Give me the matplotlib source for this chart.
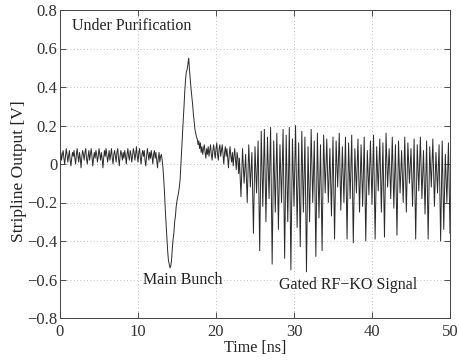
import numpy as np
import matplotlib
matplotlib.use("Agg")
import matplotlib.pyplot as plt

# ---- data ----
# baseline segment: 0.0 .. 12.9 ns, 0.1 ns sampling
base_t0, base_dt = 0.0, 0.1
base_v = [
    0.03, 0.06, 0.02, 0.05, 0.07, 0.03, 0.00, 0.04, 0.08, 0.05,
    0.01, 0.04, 0.07, 0.02, -0.01, 0.03, 0.06, 0.04, 0.07, 0.03,
    0.00, 0.05, 0.08, 0.04, 0.01, 0.06, 0.03, -0.02, 0.04, 0.07,
    0.05, 0.02, 0.06, 0.08, 0.03, 0.00, 0.04, 0.07, 0.02, 0.05,
    0.08, 0.04, -0.01, 0.03, 0.06, 0.03, 0.07, 0.05, 0.01, 0.04,
    0.08, 0.05, 0.02, 0.06, 0.03, -0.02, 0.03, 0.07, 0.04, 0.08,
    0.05, 0.01, 0.04, 0.07, 0.02, 0.05, 0.08, 0.03, 0.00, 0.05,
    0.07, 0.04, 0.01, 0.06, 0.08, 0.03, -0.01, 0.04, 0.07, 0.05,
    0.02, 0.06, 0.03, 0.07, 0.04, 0.00, 0.05, 0.08, 0.04, 0.02,
    0.07, 0.05, 0.01, 0.04, 0.08, 0.06, 0.02, 0.05, 0.09, 0.04,
    0.01, 0.06, 0.08, 0.03, 0.00, 0.05, 0.07, 0.04, 0.07, 0.02,
    -0.01, 0.04, 0.08, 0.05, 0.02, 0.06, 0.03, 0.07, 0.04, 0.00,
    0.05, 0.07, 0.03, 0.06, 0.02, -0.02, 0.03, 0.06, 0.01, 0.04,
]

# main bunch segment: 13.0 .. 22.9 ns, 0.1 ns sampling
bunch_t0, bunch_dt = 13.0, 0.1
bunch_v = [
    0.05, 0.02, -0.02, -0.08, -0.15, -0.24, -0.31, -0.38, -0.45, -0.50,
    -0.52, -0.54, -0.53, -0.50, -0.44, -0.39, -0.36, -0.30, -0.27, -0.22,
    -0.19, -0.17, -0.15, -0.12, -0.08, 0.00, 0.08, 0.16, 0.23, 0.30,
    0.38, 0.44, 0.48, 0.49, 0.52, 0.55, 0.49, 0.44, 0.39, 0.35,
    0.31, 0.26, 0.22, 0.18, 0.16, 0.14, 0.13, 0.10, 0.12, 0.08,
    0.11, 0.06, 0.09, 0.05, 0.08, 0.10, 0.06, 0.03, 0.08, 0.05,
    0.09, 0.04, 0.07, 0.10, 0.05, 0.02, 0.07, 0.10, 0.06, 0.03,
    0.08, 0.11, 0.05, 0.02, 0.08, 0.10, 0.04, 0.07, 0.10, 0.05,
    0.00, 0.06, 0.09, 0.04, 0.08, 0.03, -0.02, 0.05, 0.09, 0.04,
    0.01, 0.06, -0.01, 0.04, 0.08, 0.02, -0.03, 0.06, 0.03, -0.05,
]

# gated RF-KO segment: 23.0 .. 50.0 ns, alternating crest / trough every 0.2 ns
rfko_t0, rfko_dt = 23.0, 0.2
rfko_high = [
    0.03, 0.08, 0.05, 0.10, 0.06, 0.09, 0.12, 0.17, 0.18, 0.14,
    0.19, 0.12, 0.16, 0.10, 0.18, 0.15, 0.19, 0.13, 0.20, 0.11,
    0.17, 0.14, 0.09, 0.18, 0.12, 0.16, 0.10, 0.15, 0.13, 0.08,
    0.14, 0.12, 0.16, 0.09, 0.14, 0.11, 0.15, 0.08, 0.13, 0.10,
    0.14, 0.07, 0.12, 0.15, 0.09, 0.13, 0.11, 0.16, 0.08, 0.14,
    0.10, 0.12, 0.07, 0.14, 0.11, 0.08, 0.13, 0.10, 0.14, 0.07,
    0.12, 0.09, 0.13, 0.06, 0.10, 0.12, 0.05, 0.11,
]
rfko_low = [
    -0.17, -0.10, -0.20, -0.12, -0.36, -0.15, -0.45, -0.22, -0.30, -0.18,
    -0.52, -0.25, -0.34, -0.20, -0.49, -0.30, -0.55, -0.22, -0.33, -0.43,
    -0.25, -0.56, -0.30, -0.20, -0.48, -0.28, -0.45, -0.15, -0.20, -0.27,
    -0.39, -0.12, -0.24, -0.20, -0.39, -0.18, -0.41, -0.15, -0.25, -0.22,
    -0.40, -0.16, -0.21, -0.39, -0.14, -0.25, -0.38, -0.12, -0.18, -0.23,
    -0.37, -0.15, -0.20, -0.25, -0.10, -0.22, -0.39, -0.14, -0.18, -0.26,
    -0.39, -0.12, -0.22, -0.15, -0.40, -0.34, -0.20, -0.36,
]

x_ticks = [0, 10, 20, 30, 40, 50]
y_ticks = [-0.8, -0.6, -0.4, -0.2, 0.0, 0.2, 0.4, 0.6, 0.8]
y_ticklabels = ["\u22120.8", "\u22120.6", "\u22120.4", "\u22120.2", "0",
                "0.2", "0.4", "0.6", "0.8"]

# ---- assemble waveform ----
rfko_v = []
for h, l in zip(rfko_high, rfko_low):
    rfko_v.extend([h, l])
t_base = base_t0 + base_dt * np.arange(len(base_v))
t_bunch = bunch_t0 + bunch_dt * np.arange(len(bunch_v))
t_rfko = rfko_t0 + rfko_dt * np.arange(len(rfko_v))
t = np.concatenate([t_base, t_bunch, t_rfko])
v = np.concatenate([base_v, bunch_v, rfko_v])

plt.rcParams["font.family"] = ["Liberation Serif", "DejaVu Serif"]

fig = plt.figure(figsize=(4.59, 3.6), dpi=100)
ax = fig.add_axes([60 / 459, 1 - 318 / 360, 390 / 459, 308 / 360])

ax.plot(t, v, color="#2a2a2a", lw=0.7)

ax.set_xlim(0, 50)
ax.set_ylim(-0.8, 0.8)
ax.set_xticks(x_ticks)
ax.set_yticks(y_ticks)
ax.set_yticklabels(y_ticklabels)
ax.tick_params(direction="in", top=True, right=True, length=4, width=0.6,
               labelsize=12, colors="#333333")
ax.tick_params(axis="x", pad=4)
ax.tick_params(axis="y", pad=2)
ax.grid(True, linestyle=(0, (1, 3)), color="#b0b0b0", lw=0.6)
for s in ax.spines.values():
    s.set_linewidth(0.7)
    s.set_color("#444444")

ax.set_xlabel("Time [ns]", fontsize=11.6, color="#222222", labelpad=0.5)
fig.text(19 / 459, 1 - 171 / 360, "Stripline Output [V]", fontsize=12.6,
         color="#222222", rotation=90, ha="center", va="center")

ax.text(1.5, 0.717, "Under Purification", fontsize=11.5, color="#222222",
        va="center", ha="left")
ax.text(15.8, -0.60, "Main Bunch", fontsize=11.5, color="#222222",
        va="center", ha="center")
ax.text(36.9, -0.63, "Gated RF\u2212KO Signal", fontsize=11.5, color="#222222",
        va="center", ha="center")

fig.savefig("out.png", dpi=100)
